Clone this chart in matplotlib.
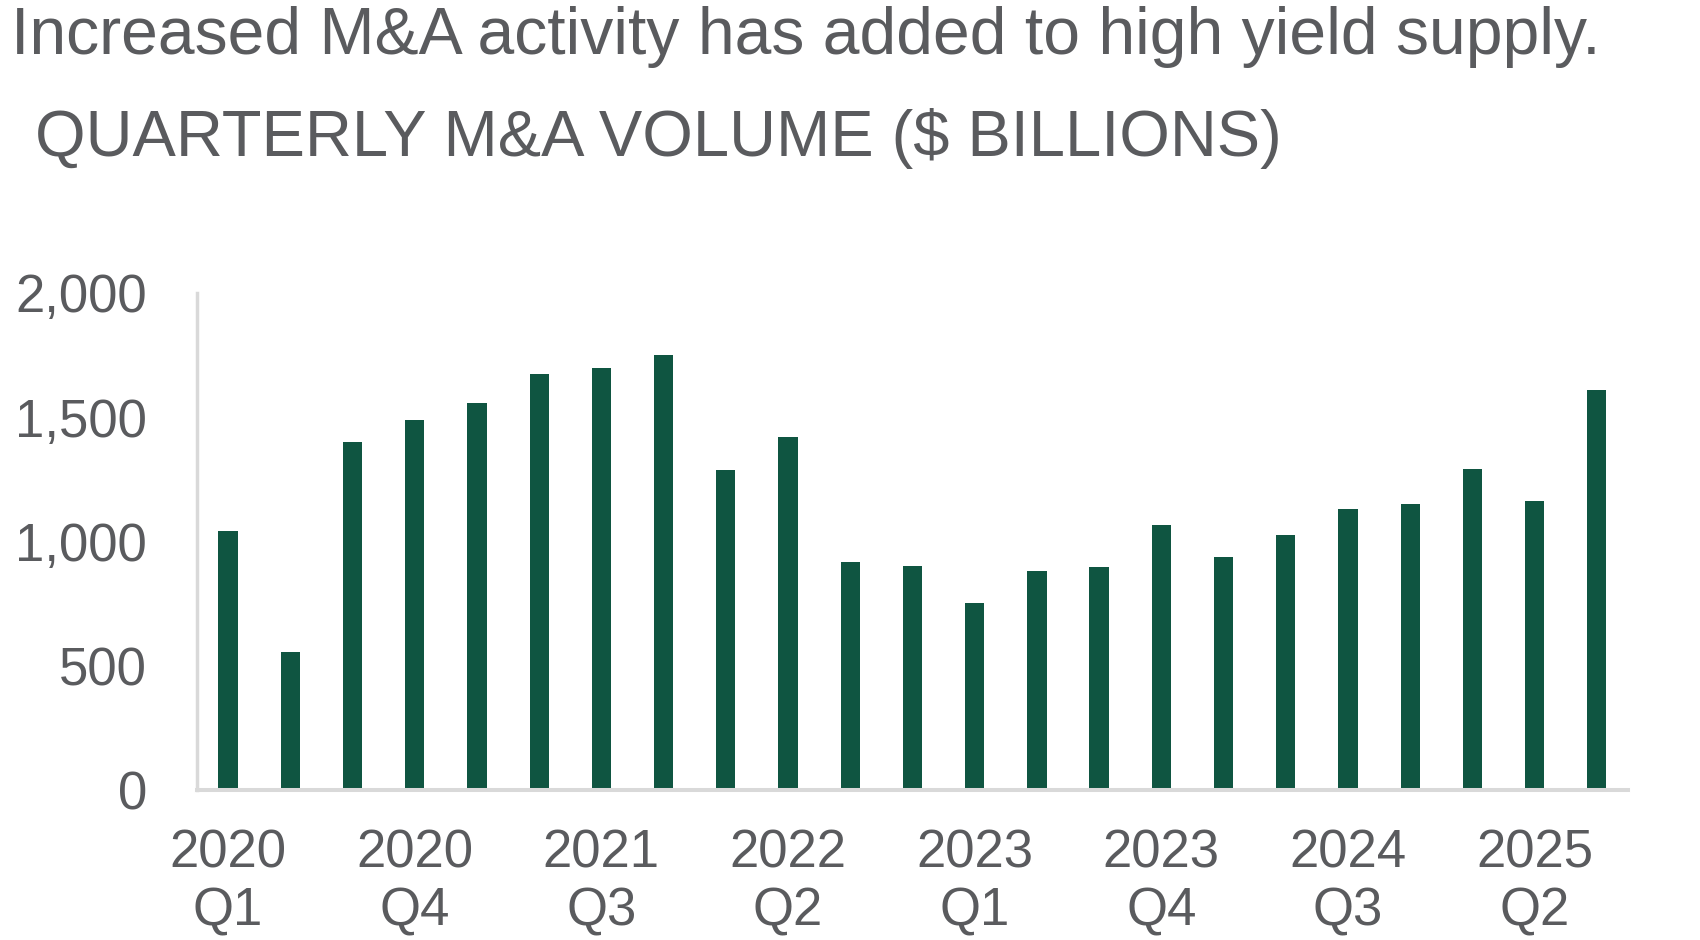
import matplotlib
matplotlib.use("Agg")
import matplotlib.pyplot as plt
import numpy as np

# Quarterly M&A volume, $ billions
years = [2020, 2020, 2020, 2020, 2021, 2021, 2021, 2021, 2022, 2022, 2022, 2022,
         2023, 2023, 2023, 2023, 2024, 2024, 2024, 2024, 2025, 2025, 2025]
quarters = ["Q1", "Q2", "Q3", "Q4"] * 5 + ["Q1", "Q2", "Q3"]
volume = [1043, 556, 1399, 1490, 1557, 1675, 1700, 1751, 1287, 1422, 919, 902,
          754, 881, 897, 1067, 937, 1026, 1132, 1150, 1290, 1162, 1609]
y_ticks = [0, 500, 1000, 1500, 2000]

TEXT = "#5a5b5e"
BAR = "#0f5541"
AXIS = "#d9d9d9"

plt.rcParams["font.family"] = ["Liberation Sans", "DejaVu Sans"]

fig = plt.figure(figsize=(17, 9.4), dpi=100)
ax = fig.add_axes([0.1159, 0.1596, 0.9576 - 0.1159, 0.6883 - 0.1596])

x = np.arange(len(volume))
ax.bar(x, volume, width=0.31, color=BAR, zorder=2)

ax.set_xlim(-0.5, len(volume) - 0.5)
ax.set_ylim(0, 2000)

# every third quarter gets a label
ax.set_xticks(x[::3])
ax.set_xticklabels([f"{years[i]}\n{quarters[i]}" for i in x[::3]],
                   fontsize=38, color=TEXT, linespacing=1.2)
ax.set_yticks(y_ticks)
ax.set_yticklabels([f"{v:,}" for v in y_ticks], fontsize=38, color=TEXT)
ax.tick_params(axis="x", length=0, pad=28)
ax.tick_params(axis="y", length=0, pad=36)

for side in ["top", "right"]:
    ax.spines[side].set_visible(False)
ax.spines["left"].set_color(AXIS)
ax.spines["left"].set_linewidth(2.5)
ax.spines["bottom"].set_color(AXIS)
ax.spines["bottom"].set_linewidth(2.9)

# headings
fig.text(11 / 1700, 1 - 54 / 940, "Increased M&A activity has added to high yield supply.",
         fontsize=47.6, color=TEXT, ha="left", va="baseline")
fig.text(35 / 1700, 1 - 156 / 940, "QUARTERLY M&A VOLUME ($ BILLIONS)",
         fontsize=46.8, color=TEXT, ha="left", va="baseline")

fig.savefig("out.png", dpi=100, facecolor="white")
